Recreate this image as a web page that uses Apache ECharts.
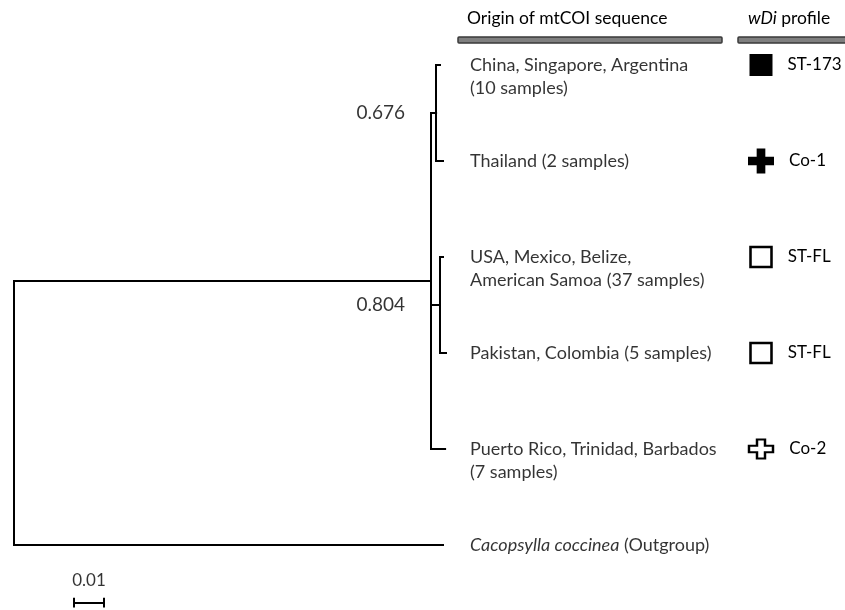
<!DOCTYPE html>
<html>
<head>
<meta charset="utf-8">
<script src="https://cdn.jsdelivr.net/npm/echarts@6/dist/echarts.min.js"></script>
<style>html,body{margin:0;padding:0;background:#fff}#c{width:845px;height:610px}</style>
</head>
<body>
<div id="c"></div>
<script>
// ---- Data ----
const nodeIds       = ['root', 'A', 'C1', 'C2', 't0', 't1', 't2', 't3', 't4', 't5'];
const nodeParents   = [null, 'root', 'A', 'A', 'C1', 'C1', 'C2', 'C2', 'A', 'root'];
const branchLengths = [0, 0.139, 0.0017, 0.003, 0.0013, 0.0023, 0.001, 0.002, 0.0047, 0.143];
const tipIds        = ['t0', 't1', 't2', 't3', 't4', 't5'];
const tipLabels = [
  'China, Singapore, Argentina\n(10 samples)',
  'Thailand (2 samples)',
  'USA, Mexico, Belize,\nAmerican Samoa (37 samples)',
  'Pakistan, Colombia (5 samples)',
  'Puerto Rico, Trinidad, Barbados\n(7 samples)',
  '{i|Cacopsylla coccinea} (Outgroup)'
];
const tipProfiles   = ['ST-173', 'Co-1', 'ST-FL', 'ST-FL', 'Co-2', null];
const supportNodes  = ['C1', 'C2'];
const supportValues = ['0.676', '0.804'];
const scaleBarLength = 0.01;
const scaleBarLabel  = '0.01';
const headers = ['Origin of mtCOI sequence', '{i|wDi} profile'];

// ---- Layout constants (not data) ----
const FONT = 'Lato, "Open Sans", sans-serif';
const labelX = 0.152;     // data x where tip text begins
const markerX = 0.249;    // data x of profile markers
const scaleX = 0.02, scaleY = 5.6;

// ---- Tree geometry from branch lengths ----
const X = {}, Y = {};
nodeIds.forEach((n, i) => {
  const p = nodeParents[i];
  X[n] = (p === null ? 0 : X[p]) + branchLengths[i];
});
tipIds.forEach((t, i) => Y[t] = i);
function children(n) { return nodeIds.filter((m, i) => nodeParents[i] === n); }
function yOf(n) {
  if (Y[n] !== undefined) return Y[n];
  const ys = children(n).map(yOf);
  Y[n] = (Math.min(...ys) + Math.max(...ys)) / 2;
  return Y[n];
}
nodeIds.forEach(yOf);

const segs = [];
nodeIds.forEach((n, i) => {
  const p = nodeParents[i];
  if (p !== null) segs.push({ coords: [[X[p], Y[n]], [X[n], Y[n]]] });
  const ch = children(n);
  if (ch.length) {
    const ys = ch.map(c => Y[c]);
    segs.push({ coords: [[X[n], Math.min(...ys)], [X[n], Math.max(...ys)]] });
  }
});

// scale bar
const tick = 0.05;
const scaleSegs = [
  { coords: [[scaleX, scaleY], [scaleX + scaleBarLength, scaleY]] },
  { coords: [[scaleX, scaleY - tick], [scaleX, scaleY + tick]] },
  { coords: [[scaleX + scaleBarLength, scaleY - tick], [scaleX + scaleBarLength, scaleY + tick]] }
];

const crossPath = 'path://M1,0H2V1H3V2H2V3H1V2H0V1H1Z';
const profileStyle = {
  'ST-173': { symbol: 'rect', size: [23, 22], fill: '#000', stroke: '#000', lw: 0 },
  'Co-1':   { symbol: crossPath, size: [26, 25], fill: '#000', stroke: '#000', lw: 0 },
  'ST-FL':  { symbol: 'rect', size: [21, 20], fill: '#fff', stroke: '#000', lw: 2.5 },
  'Co-2':   { symbol: crossPath, size: [24, 19], fill: '#fff', stroke: '#000', lw: 2.2 }
};

const markerData = [];
tipIds.forEach((t, i) => {
  const p = tipProfiles[i];
  if (!p) return;
  const s = profileStyle[p];
  markerData.push({
    value: [markerX, Y[t]], name: p,
    symbol: s.symbol, symbolSize: s.size,
    itemStyle: { color: s.fill, borderColor: s.stroke, borderWidth: s.lw, opacity: 1 }
  });
});

const textData = tipIds.map((t, i) => ({ value: [labelX, Y[t]], name: tipLabels[i] }));
const supportData = supportNodes.map((n, i) => ({ value: [X['A'], Y[n]], name: supportValues[i] }));

const chart = echarts.init(document.getElementById('c'), null, { renderer: 'canvas' });
chart.setOption({
  backgroundColor: '#fff',
  animation: false,
  grid: { left: 14, top: 65, width: 810, height: 537.6, outerBoundsMode: 'none', containLabel: false },
  xAxis: { type: 'value', min: 0, max: 0.27, show: false },
  yAxis: { type: 'value', min: 0, max: 5.6, inverse: true, show: false },
  graphic: [
    { type: 'rect', shape: { x: 458, y: 37, width: 264, height: 6, r: 1 },
      style: { fill: '#7f7f7f', stroke: '#3a3a3a', lineWidth: 1.5 } },
    { type: 'rect', shape: { x: 738, y: 37, width: 120, height: 6, r: 1 },
      style: { fill: '#7f7f7f', stroke: '#3a3a3a', lineWidth: 1.5 } },
    { type: 'text', x: 467, y: 18,
      style: { text: headers[0], font: '17.5px ' + FONT, fill: '#000', verticalAlign: 'middle' } },
    { type: 'text', x: 748, y: 18,
      style: { text: headers[1], font: '17.5px ' + FONT, fill: '#000', verticalAlign: 'middle',
        rich: { i: { fontStyle: 'italic', fontSize: 17.5, fontFamily: FONT, fill: '#000' } } } }
  ],
  series: [
    {
      type: 'lines', coordinateSystem: 'cartesian2d', polyline: false, silent: true, clip: false,
      lineStyle: { color: '#000', width: 2, opacity: 1, cap: 'square' },
      data: segs
    },
    {
      type: 'lines', coordinateSystem: 'cartesian2d', polyline: false, silent: true, clip: false,
      lineStyle: { color: '#000', width: 2, opacity: 1, cap: 'butt' },
      data: scaleSegs
    },
    {
      type: 'scatter', symbolSize: 0, silent: true, clip: false,
      data: [{ value: [scaleX + scaleBarLength / 2, scaleY], name: scaleBarLabel }],
      label: { show: true, position: 'top', distance: 14, formatter: '{b}',
        fontFamily: FONT, fontSize: 17, color: '#000' }
    },
    {
      type: 'scatter', symbolSize: 0, silent: true, clip: false,
      data: textData,
      label: { show: true, position: [0, -11.5], align: 'left', verticalAlign: 'top',
        formatter: '{b}', fontFamily: FONT, fontSize: 18, lineHeight: 23, color: '#000',
        rich: { i: { fontStyle: 'italic', fontFamily: FONT, fontSize: 18, lineHeight: 23, color: '#000' } } }
    },
    {
      type: 'scatter', symbolSize: 0, silent: true, clip: false,
      data: supportData,
      label: { show: true, position: 'left', distance: 26, formatter: '{b}',
        fontFamily: FONT, fontSize: 19, color: '#000' }
    },
    {
      type: 'scatter', silent: true, clip: false,
      data: markerData,
      label: { show: true, position: 'right', distance: 15, formatter: '{b}',
        fontFamily: FONT, fontSize: 17, color: '#000' }
    }
  ]
});
</script>
</body>
</html>
